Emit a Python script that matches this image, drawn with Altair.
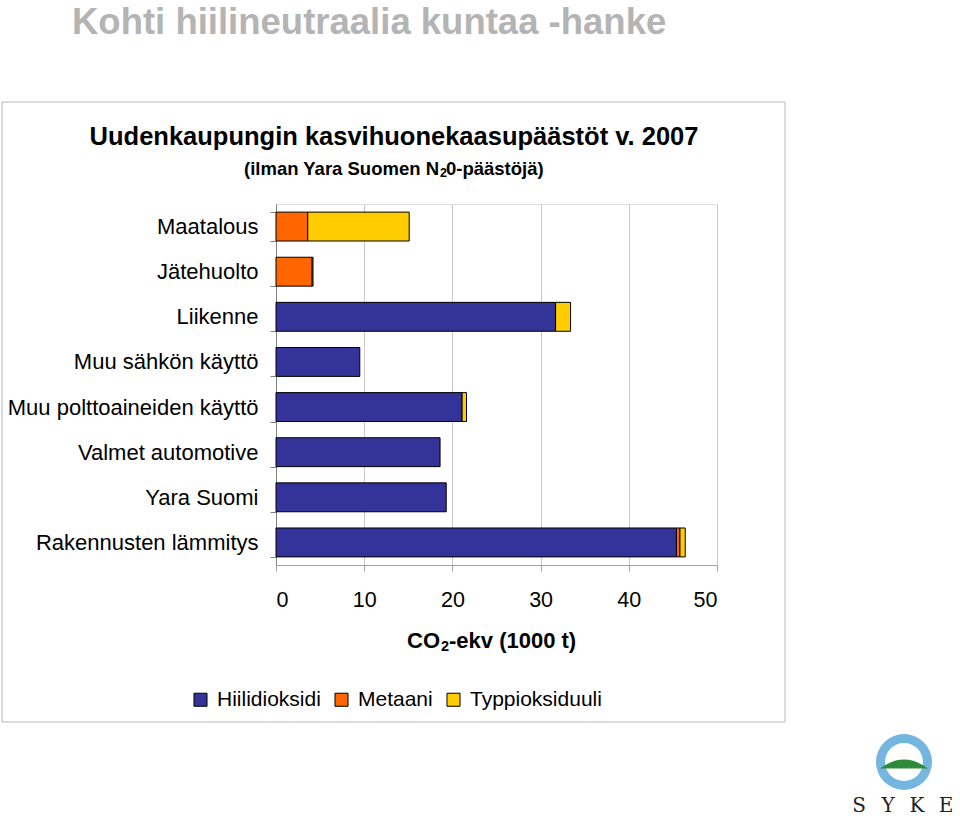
import altair as alt
import pandas as pd

categories = ["Maatalous", "Jätehuolto", "Liikenne", "Muu sähkön käyttö",
              "Muu polttoaineiden käyttö", "Valmet automotive", "Yara Suomi",
              "Rakennusten lämmitys"]
gases = ["Hiilidioksidi", "Metaani", "Typpioksiduuli"]
co2 = [0.0, 0.0, 31.7, 9.5, 21.1, 18.6, 19.3, 45.4]
ch4 = [3.6, 4.1, 0.0, 0.0, 0.0, 0.0, 0.0, 0.4]
n2o = [11.5, 0.1, 1.7, 0.0, 0.5, 0.0, 0.0, 0.6]
colors = ["#333399", "#FF6600", "#FFCC00"]
x_ticks = [0, 10, 20, 30, 40, 50]

rows = []
for i, c in enumerate(categories):
    for gi, (g, vals) in enumerate(zip(gases, [co2, ch4, n2o])):
        if vals[i] > 0:
            rows.append({"kategoria": c, "kaasu": g, "arvo": vals[i], "jarj": gi})
df = pd.DataFrame(rows)

W, H = 441, 361
OX, OY = 276, 204
FONT = "Liberation Sans"

bars = alt.Chart(df).mark_bar(stroke="black", strokeWidth=1).encode(
    y=alt.Y("kategoria:N", sort=categories, title=None,
            scale=alt.Scale(paddingInner=0.36, paddingOuter=0.18),
            axis=alt.Axis(labelFontSize=22, labelColor="black", labelFont=FONT,
                          tickBand="extent", tickSize=6, tickColor="#808080",
                          domainColor="#808080", labelPadding=12, labelLimit=300)),
    x=alt.X("sum(arvo):Q", title=None,
            scale=alt.Scale(domain=[0, 50], nice=False),
            axis=alt.Axis(values=x_ticks, labelFontSize=21.5, labelColor="black",
                          labelFont=FONT, tickSize=6, tickColor="#a0a0a0",
                          domainColor="#a0a0a0", gridColor="#c8c8c8",
                          labelPadding=18, grid=True)),
    color=alt.Color("kaasu:N", scale=alt.Scale(domain=gases, range=colors),
                    legend=alt.Legend(orient="none", legendX=190 - OX, legendY=689 - OY,
                                      direction="horizontal", title=None,
                                      symbolType="square", symbolSize=170,
                                      symbolStrokeColor="black", symbolStrokeWidth=1,
                                      labelFontSize=21, labelFont=FONT, labelColor="black",
                                      columnPadding=10, labelOffset=6)),
    order=alt.Order("jarj:Q", sort="ascending"),
)

def txt(text, x, y, size, bold=True, color="black", align="center", baseline="alphabetic", font=FONT):
    return alt.Chart(pd.DataFrame({"t": [text]})).mark_text(
        fontSize=size, fontWeight="bold" if bold else "normal", color=color,
        align=align, baseline=baseline, font=font
    ).encode(text="t:N", x=alt.value(x - OX), y=alt.value(y - OY))

outer = alt.Chart(pd.DataFrame({"a": [0]})).mark_rect(
    fill=None, stroke="#b8b8b8", strokeWidth=1
).encode(x=alt.value(2 - OX), x2=alt.value(785 - OX), y=alt.value(102 - OY), y2=alt.value(722 - OY))

page_title = txt("Kohti hiilineutraalia kuntaa -hanke", 72, 34, 36.5, color="#b4b4b4", align="left")
title1 = txt("Uudenkaupungin kasvihuonekaasupäästöt v. 2007", 394, 145, 25.5)
sub_a = txt("(ilman Yara Suomen N", 439, 175, 18.5, align="right")
sub_b = txt("2", 440, 177, 12.5, align="left")
sub_c = txt("0-päästöjä)", 446, 175, 18.5, align="left")
xt_a = txt("CO", 440, 648, 22, align="right")
xt_b = txt("2", 441, 651, 14.5, align="left")
xt_c = txt("-ekv (1000 t)", 449, 648, 22, align="left")

ring = alt.Chart(pd.DataFrame({"a": [0]})).mark_arc(
    color="#74b6e0", radius=28, radius2=19, theta=0, theta2=6.2832
).encode(x=alt.value(904 - OX), y=alt.value(762 - OY))
hill = alt.Chart(pd.DataFrame({"a": [0]})).mark_point(
    shape="M -1 0.15 Q 0 -0.6 1 0.15 Z", filled=True, color="#2e8b3a", size=2304, opacity=1
).encode(x=alt.value(904 - OX), y=alt.value(765 - OY))
logo_letters = [txt(ch, xx, 812, 20, bold=False, color="#222222", font="DejaVu Serif")
                for ch, xx in zip(["S", "Y", "K", "E"], [859, 888, 917, 946])]

chart = alt.layer(outer, bars, page_title, title1, sub_a, sub_b, sub_c,
                  xt_a, xt_b, xt_c, ring, hill, *logo_letters).properties(
    width=W, height=H,
    autosize=alt.AutoSizeParams(type="none"),
    padding={"left": OX, "top": OY, "right": 960 - OX - W, "bottom": 816 - OY - H},
).configure_view(stroke="#c8c8c8").configure(background="white")

chart.save("out.html", embed_options={"renderer": "svg", "actions": False})
